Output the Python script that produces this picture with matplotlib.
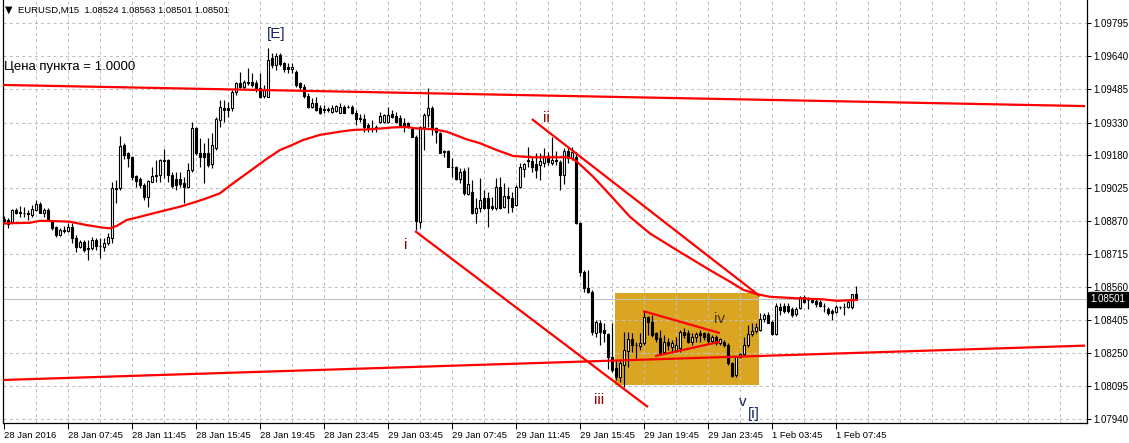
import matplotlib.pyplot as plt
import matplotlib.patches as mpatches
import matplotlib.transforms as mtransforms
import numpy as np

# EURUSD,M15 candles (bar index 0 = first visible bar)
opens = [
    1.08877, 1.08873, 1.08860, 1.08920, 1.08910, 1.08905, 1.08908, 1.08896, 1.08920, 1.08948,
    1.08907, 1.08920, 1.08869, 1.08841, 1.08802, 1.08826, 1.08822, 1.08841, 1.08787, 1.08748,
    1.08768, 1.08741, 1.08740, 1.08779, 1.08751, 1.08748, 1.08763, 1.08787, 1.09021, 1.09021,
    1.09225, 1.09185, 1.09167, 1.09079, 1.09064, 1.09037, 1.08979, 1.09052, 1.09079, 1.09084,
    1.09154, 1.09154, 1.09084, 1.09064, 1.09064, 1.09045, 1.09029, 1.09107, 1.09303, 1.09188,
    1.09188, 1.09185, 1.09135, 1.09210, 1.09341, 1.09396, 1.09396, 1.09396, 1.09474, 1.09516,
    1.09498, 1.09518, 1.09521, 1.09514, 1.09490, 1.09454, 1.09451, 1.09631, 1.09600, 1.09646,
    1.09608, 1.09592, 1.09579, 1.09568, 1.09514, 1.09498, 1.09454, 1.09404, 1.09423, 1.09396,
    1.09393, 1.09392, 1.09381, 1.09385, 1.09376, 1.09404, 1.09404, 1.09404, 1.09376, 1.09350,
    1.09345, 1.09318, 1.09303, 1.09308, 1.09334, 1.09334, 1.09334, 1.09370, 1.09361, 1.09350,
    1.09329, 1.09326, 1.09298, 1.09263, 1.08865, 1.09310, 1.09365, 1.09397, 1.09304, 1.09281,
    1.09197, 1.09198, 1.09123, 1.09120, 1.09064, 1.09104, 1.08995, 1.09006, 1.08904, 1.08928,
    1.08974, 1.08976, 1.08939, 1.08929, 1.09028, 1.08935, 1.08985, 1.08976, 1.08943, 1.09029,
    1.09111, 1.09152, 1.09151, 1.09135, 1.09131, 1.09139, 1.09173, 1.09142, 1.09152, 1.09146,
    1.09084, 1.09197, 1.09164, 1.09170, 1.08857, 1.08631, 1.08553, 1.08537, 1.08344, 1.08391,
    1.08357, 1.08338, 1.08232, 1.08177, 1.08138, 1.08193, 1.08260, 1.08314, 1.08287, 1.08282,
    1.08295, 1.08417, 1.08396, 1.08342, 1.08318, 1.08256, 1.08302, 1.08279, 1.08263, 1.08271,
    1.08349, 1.08342, 1.08302, 1.08323, 1.08342, 1.08342, 1.08338, 1.08307, 1.08323, 1.08298,
    1.08302, 1.08287, 1.08201, 1.08146, 1.08229, 1.08245, 1.08287, 1.08338, 1.08354, 1.08357,
    1.08407, 1.08428, 1.08396, 1.08338, 1.08464, 1.08470, 1.08470, 1.08454, 1.08432, 1.08459,
    1.08513, 1.08498, 1.08498, 1.08494, 1.08490, 1.08470, 1.08454, 1.08448, 1.08443, 1.08464,
    1.08464, 1.08464, 1.08467, 1.08524,
]
highs = [
    1.08891, 1.08883, 1.08923, 1.08927, 1.08938, 1.08934, 1.08920, 1.08943, 1.08966, 1.08958,
    1.08927, 1.08927, 1.08873, 1.08845, 1.08834, 1.08845, 1.08857, 1.08860, 1.08802, 1.08779,
    1.08779, 1.08779, 1.08794, 1.08787, 1.08787, 1.08787, 1.08810, 1.09052, 1.09060, 1.09267,
    1.09232, 1.09192, 1.09173, 1.09084, 1.09073, 1.09045, 1.09060, 1.09122, 1.09154, 1.09157,
    1.09204, 1.09157, 1.09099, 1.09099, 1.09099, 1.09076, 1.09139, 1.09334, 1.09310, 1.09256,
    1.09232, 1.09256, 1.09279, 1.09356, 1.09435, 1.09435, 1.09427, 1.09482, 1.09521, 1.09568,
    1.09529, 1.09584, 1.09561, 1.09529, 1.09561, 1.09506, 1.09678, 1.09654, 1.09654, 1.09654,
    1.09615, 1.09608, 1.09608, 1.09576, 1.09521, 1.09510, 1.09467, 1.09443, 1.09451, 1.09412,
    1.09412, 1.09404, 1.09412, 1.09412, 1.09420, 1.09412, 1.09412, 1.09412, 1.09388, 1.09370,
    1.09370, 1.09326, 1.09341, 1.09318, 1.09381, 1.09370, 1.09404, 1.09388, 1.09381, 1.09365,
    1.09350, 1.09334, 1.09310, 1.09271, 1.09314, 1.09374, 1.09492, 1.09407, 1.09309, 1.09287,
    1.09201, 1.09201, 1.09162, 1.09126, 1.09115, 1.09115, 1.09120, 1.09060, 1.08974, 1.09068,
    1.09013, 1.09006, 1.08982, 1.09068, 1.09076, 1.09045, 1.09029, 1.09002, 1.09037, 1.09139,
    1.09142, 1.09217, 1.09167, 1.09186, 1.09186, 1.09209, 1.09193, 1.09263, 1.09198, 1.09154,
    1.09210, 1.09217, 1.09217, 1.09193, 1.08864, 1.08638, 1.08638, 1.08545, 1.08404, 1.08404,
    1.08391, 1.08342, 1.08388, 1.08216, 1.08216, 1.08349, 1.08349, 1.08342, 1.08302, 1.08342,
    1.08448, 1.08423, 1.08428, 1.08349, 1.08357, 1.08334, 1.08318, 1.08310, 1.08326, 1.08357,
    1.08365, 1.08357, 1.08343, 1.08349, 1.08357, 1.08349, 1.08349, 1.08334, 1.08334, 1.08320,
    1.08310, 1.08295, 1.08209, 1.08235, 1.08248, 1.08326, 1.08381, 1.08388, 1.08388, 1.08435,
    1.08438, 1.08443, 1.08404, 1.08485, 1.08485, 1.08482, 1.08482, 1.08467, 1.08467, 1.08517,
    1.08521, 1.08513, 1.08506, 1.08501, 1.08498, 1.08482, 1.08464, 1.08454, 1.08474, 1.08470,
    1.08482, 1.08498, 1.08528, 1.08563,
]
lows = [
    1.08854, 1.08835, 1.08857, 1.08901, 1.08888, 1.08886, 1.08873, 1.08888, 1.08916, 1.08904,
    1.08888, 1.08874, 1.08826, 1.08794, 1.08798, 1.08810, 1.08818, 1.08763, 1.08724, 1.08740,
    1.08724, 1.08685, 1.08732, 1.08732, 1.08693, 1.08729, 1.08755, 1.08763, 1.08951, 1.09013,
    1.09157, 1.09122, 1.09060, 1.09029, 1.09021, 1.08966, 1.08932, 1.09052, 1.09052, 1.09052,
    1.09068, 1.09052, 1.09021, 1.09013, 1.09029, 1.08951, 1.09021, 1.09099, 1.09177, 1.09122,
    1.09045, 1.09122, 1.09115, 1.09201, 1.09307, 1.09333, 1.09354, 1.09385, 1.09459, 1.09490,
    1.09482, 1.09506, 1.09498, 1.09474, 1.09443, 1.09443, 1.09448, 1.09584, 1.09576, 1.09595,
    1.09568, 1.09561, 1.09561, 1.09498, 1.09482, 1.09443, 1.09396, 1.09396, 1.09384, 1.09370,
    1.09373, 1.09381, 1.09373, 1.09381, 1.09373, 1.09373, 1.09396, 1.09370, 1.09318, 1.09333,
    1.09287, 1.09287, 1.09287, 1.09287, 1.09326, 1.09326, 1.09326, 1.09350, 1.09326, 1.09307,
    1.09287, 1.09304, 1.09261, 1.08826, 1.08835, 1.09201, 1.09310, 1.09271, 1.09232, 1.09186,
    1.09170, 1.09120, 1.09076, 1.09060, 1.09045, 1.08990, 1.08990, 1.08901, 1.08860, 1.08912,
    1.08923, 1.08842, 1.08920, 1.08920, 1.08923, 1.08928, 1.08904, 1.08912, 1.08939, 1.09021,
    1.09076, 1.09120, 1.09099, 1.09068, 1.09060, 1.09122, 1.09131, 1.09131, 1.09131, 1.09013,
    1.09042, 1.09142, 1.09154, 1.08854, 1.08610, 1.08537, 1.08531, 1.08334, 1.08326, 1.08287,
    1.08302, 1.08173, 1.08162, 1.08123, 1.08115, 1.08092, 1.08185, 1.08255, 1.08224, 1.08263,
    1.08287, 1.08334, 1.08326, 1.08302, 1.08240, 1.08245, 1.08263, 1.08251, 1.08254, 1.08255,
    1.08318, 1.08295, 1.08287, 1.08302, 1.08302, 1.08310, 1.08295, 1.08295, 1.08287, 1.08287,
    1.08279, 1.08193, 1.08135, 1.08138, 1.08224, 1.08240, 1.08279, 1.08329, 1.08344, 1.08354,
    1.08396, 1.08389, 1.08334, 1.08334, 1.08427, 1.08438, 1.08438, 1.08420, 1.08423, 1.08454,
    1.08482, 1.08454, 1.08482, 1.08466, 1.08464, 1.08443, 1.08428, 1.08404, 1.08436, 1.08454,
    1.08428, 1.08459, 1.08454, 1.08501,
]
closes = [
    1.08868, 1.08854, 1.08920, 1.08904, 1.08905, 1.08908, 1.08900, 1.08923, 1.08948, 1.08907,
    1.08920, 1.08879, 1.08834, 1.08802, 1.08826, 1.08823, 1.08841, 1.08787, 1.08748, 1.08768,
    1.08732, 1.08737, 1.08779, 1.08751, 1.08749, 1.08763, 1.08791, 1.09021, 1.09018, 1.09220,
    1.09180, 1.09165, 1.09076, 1.09057, 1.09037, 1.08979, 1.09056, 1.09079, 1.09084, 1.09154,
    1.09151, 1.09084, 1.09032, 1.09037, 1.09042, 1.09029, 1.09107, 1.09303, 1.09185, 1.09167,
    1.09167, 1.09131, 1.09225, 1.09346, 1.09401, 1.09388, 1.09388, 1.09474, 1.09514, 1.09498,
    1.09521, 1.09516, 1.09506, 1.09490, 1.09448, 1.09486, 1.09623, 1.09600, 1.09642, 1.09604,
    1.09579, 1.09579, 1.09590, 1.09506, 1.09498, 1.09454, 1.09404, 1.09423, 1.09388, 1.09373,
    1.09388, 1.09389, 1.09396, 1.09407, 1.09404, 1.09376, 1.09402, 1.09373, 1.09345, 1.09346,
    1.09307, 1.09298, 1.09301, 1.09305, 1.09361, 1.09365, 1.09365, 1.09357, 1.09334, 1.09318,
    1.09310, 1.09309, 1.09263, 1.08870, 1.09310, 1.09365, 1.09397, 1.09303, 1.09287, 1.09188,
    1.09194, 1.09123, 1.09121, 1.09064, 1.09099, 1.08998, 1.09042, 1.08904, 1.08928, 1.08966,
    1.08928, 1.08929, 1.08929, 1.09028, 1.08929, 1.08985, 1.08976, 1.08934, 1.09029, 1.09120,
    1.09135, 1.09149, 1.09120, 1.09107, 1.09151, 1.09173, 1.09146, 1.09154, 1.09149, 1.09084,
    1.09197, 1.09164, 1.09193, 1.08857, 1.08631, 1.08553, 1.08537, 1.08349, 1.08396, 1.08349,
    1.08342, 1.08232, 1.08169, 1.08138, 1.08203, 1.08263, 1.08314, 1.08287, 1.08285, 1.08298,
    1.08417, 1.08396, 1.08334, 1.08314, 1.08248, 1.08302, 1.08287, 1.08295, 1.08287, 1.08349,
    1.08334, 1.08302, 1.08326, 1.08338, 1.08334, 1.08323, 1.08307, 1.08323, 1.08298, 1.08314,
    1.08287, 1.08201, 1.08141, 1.08229, 1.08245, 1.08287, 1.08338, 1.08354, 1.08370, 1.08407,
    1.08428, 1.08392, 1.08338, 1.08470, 1.08451, 1.08448, 1.08448, 1.08428, 1.08454, 1.08513,
    1.08490, 1.08496, 1.08490, 1.08479, 1.08470, 1.08468, 1.08438, 1.08438, 1.08464, 1.08465,
    1.08465, 1.08490, 1.08526, 1.08501,
]

# moving average line (bar, price)
ma_bars = [0, 6.6, 9.1, 12.4, 16.6, 20.8, 24.9, 26.6, 28.3, 30.8, 34.1, 37.4, 40.8, 44.1,
           47.4, 50.8, 54.1, 57.4, 61.6, 65.4, 69.1, 71.6, 74.9, 79.1, 84.1, 87.4, 92.4,
           97.4, 100.8, 102.9, 107.4, 110.8, 115.8, 119.1, 123.3, 127.4, 132.4, 140.8,
           142.1, 143.4, 147.4, 152.4, 156.6, 161.6, 169.1, 176.6, 181.6, 185.0, 188.3,
           191.6, 198.3, 204.9, 208.3, 213.3]
ma_prices = [1.08857, 1.08860, 1.08869, 1.08868, 1.08865, 1.08849, 1.08837, 1.08834, 1.08845,
             1.08873, 1.08888, 1.08904, 1.08920, 1.08935, 1.08954, 1.08975, 1.08998, 1.09045,
             1.09102, 1.09154, 1.09201, 1.09220, 1.09248, 1.09272, 1.09287, 1.09295, 1.09299,
             1.09307, 1.09309, 1.09303, 1.09298, 1.09287, 1.09251, 1.09233, 1.09201, 1.09173,
             1.09167, 1.09167, 1.09162, 1.09146, 1.09076, 1.08975, 1.08888, 1.08810, 1.08723,
             1.08638, 1.08584, 1.08545, 1.08526, 1.08513, 1.08506, 1.08501, 1.08494, 1.08498]

# trend lines: (bar0, price0, bar1, price1)
trend_lines = [
    (-0.125, 1.09506, 270.4, 1.09407),
    (-0.125, 1.08123, 270.4, 1.08284),
    (102.9, 1.08821, 161.1, 1.07996),
    (132.1, 1.09346, 189.1, 1.08516),
    (159.9, 1.08446, 179.1, 1.08343),
    (162.9, 1.08235, 179.1, 1.08302),
]
box_bars = (152.9, 188.9)
box_prices = (1.08099, 1.08532)

wave_labels = ['[E]', 'i', 'ii', 'iii', 'iv', 'v', '[i]']
wave_bars = [68.1, 100.6, 135.8, 148.8, 179.1, 184.9, 187.5]
wave_prices = [1.09745, 1.08755, 1.09352, 1.08029, 1.08409, 1.08022, 1.07963]
wave_colors = ['#13235e', '#8b0000', '#8b0000', '#8b0000', '#4a3410', '#13235e', '#13235e']

price_ticks = [1.07940, 1.08095, 1.08250, 1.08405, 1.08560, 1.08715, 1.08870,
               1.09025, 1.09180, 1.09330, 1.09485, 1.09640, 1.09795]
price_labels = ['1.07940', '1.08095', '1.08250', '1.08405', '1.08560', '1.08715', '1.08870',
                '1.09025', '1.09180', '1.09330', '1.09485', '1.09640', '1.09795']
date_bars = [0, 16, 32, 48, 64, 80, 96, 112, 128, 144, 160, 176, 192, 208]
date_labels = ['28 Jan 2016', '28 Jan 07:45', '28 Jan 11:45', '28 Jan 15:45', '28 Jan 19:45',
               '28 Jan 23:45', '29 Jan 03:45', '29 Jan 07:45', '29 Jan 11:45', '29 Jan 15:45',
               '29 Jan 19:45', '29 Jan 23:45', '1 Feb 03:45', '1 Feb 07:45']
last_price = 1.08501

plt.rcParams['font.family'] = ['Liberation Sans', 'DejaVu Sans']

W, H = 1129, 443
fig = plt.figure(figsize=(W / 100, H / 100), dpi=100)
ax = fig.add_axes([2.5 / W, (H - 422.7) / H, 1084 / W, 422.7 / H])
ax.set_xlim(-0.25, 270.75)
ax.set_ylim(1.079227, 1.099043)

# grid
for b in range(8, 271, 8):
    ax.axvline(b, color='#c0c0c0', lw=0.75, ls=(0, (3, 3)), zorder=1)
for p in price_ticks:
    ax.axhline(p, color='#c0c0c0', lw=0.75, ls=(0, (3, 3)), zorder=1)
ax.axhline(last_price, color='#c0c0c0', lw=0.75, zorder=1.2)

# rectangle
ax.add_patch(mpatches.Rectangle((box_bars[0], box_prices[0]), box_bars[1] - box_bars[0],
                                box_prices[1] - box_prices[0], facecolor='#daa520',
                                edgecolor='none', zorder=0.5))

# candles
o = np.array(opens)
h = np.array(highs)
l = np.array(lows)
c = np.array(closes)
x = np.arange(len(o))
ax.vlines(x, l, h, color='black', lw=0.85, zorder=3)
bull = c >= o
body = np.maximum(np.abs(c - o), 0.00002)
ax.bar(x[bull], body[bull], bottom=np.minimum(o, c)[bull], width=0.5,
       color='white', edgecolor='black', lw=0.8, zorder=3.5)
ax.bar(x[~bull], body[~bull], bottom=np.minimum(o, c)[~bull], width=0.5,
       color='black', edgecolor='black', lw=0.8, zorder=3.5)

# MA + trend lines
ax.plot(ma_bars, ma_prices, color='red', lw=1.6, zorder=4)
for b0, p0, b1, p1 in trend_lines:
    ax.plot([b0, b1], [p0, p1], color='red', lw=1.6, zorder=4, solid_capstyle='butt')

for txt, b, p, col in zip(wave_labels, wave_bars, wave_prices, wave_colors):
    ax.text(b, p, txt, color=col, fontsize=11, ha='center', va='center', zorder=5)

ax.text(0.001, 0.8415, 'Цена пункта = 1.0000', transform=ax.transAxes, fontsize=9.5,
        ha='left', va='center', color='black', zorder=5)

# axes styling
for side in ['left', 'right', 'bottom']:
    ax.spines[side].set_linewidth(0.9)
    ax.spines[side].set_color('black')
ax.spines['top'].set_visible(False)

ax.yaxis.tick_right()
ax.set_yticks(price_ticks)
ax.set_yticklabels(price_labels)
ax.set_xticks(date_bars)
ax.set_xticklabels(date_labels, ha='left')
ax.tick_params(axis='y', direction='out', length=3, width=0.75, pad=2, labelsize=7)
ax.tick_params(axis='x', direction='out', length=4, width=0.75, pad=2, labelsize=6.8)

# last price tag
trans = mtransforms.blended_transform_factory(ax.transAxes, ax.transData)
ax.text(1.0035, last_price, '1.08501', transform=trans, color='white', fontsize=7,
        ha='left', va='center', zorder=6, clip_on=False,
        bbox=dict(facecolor='black', edgecolor='black', boxstyle='square,pad=0.25'))

# header
fig.text(5 / W, 1 - 10 / H, '▼', fontsize=7, ha='left', va='center', family='DejaVu Sans')
fig.text(18 / W, 1 - 10 / H, 'EURUSD,M15  1.08524 1.08563 1.08501 1.08501', fontsize=6.8,
         ha='left', va='center')

fig.savefig('out.png', dpi=100)
